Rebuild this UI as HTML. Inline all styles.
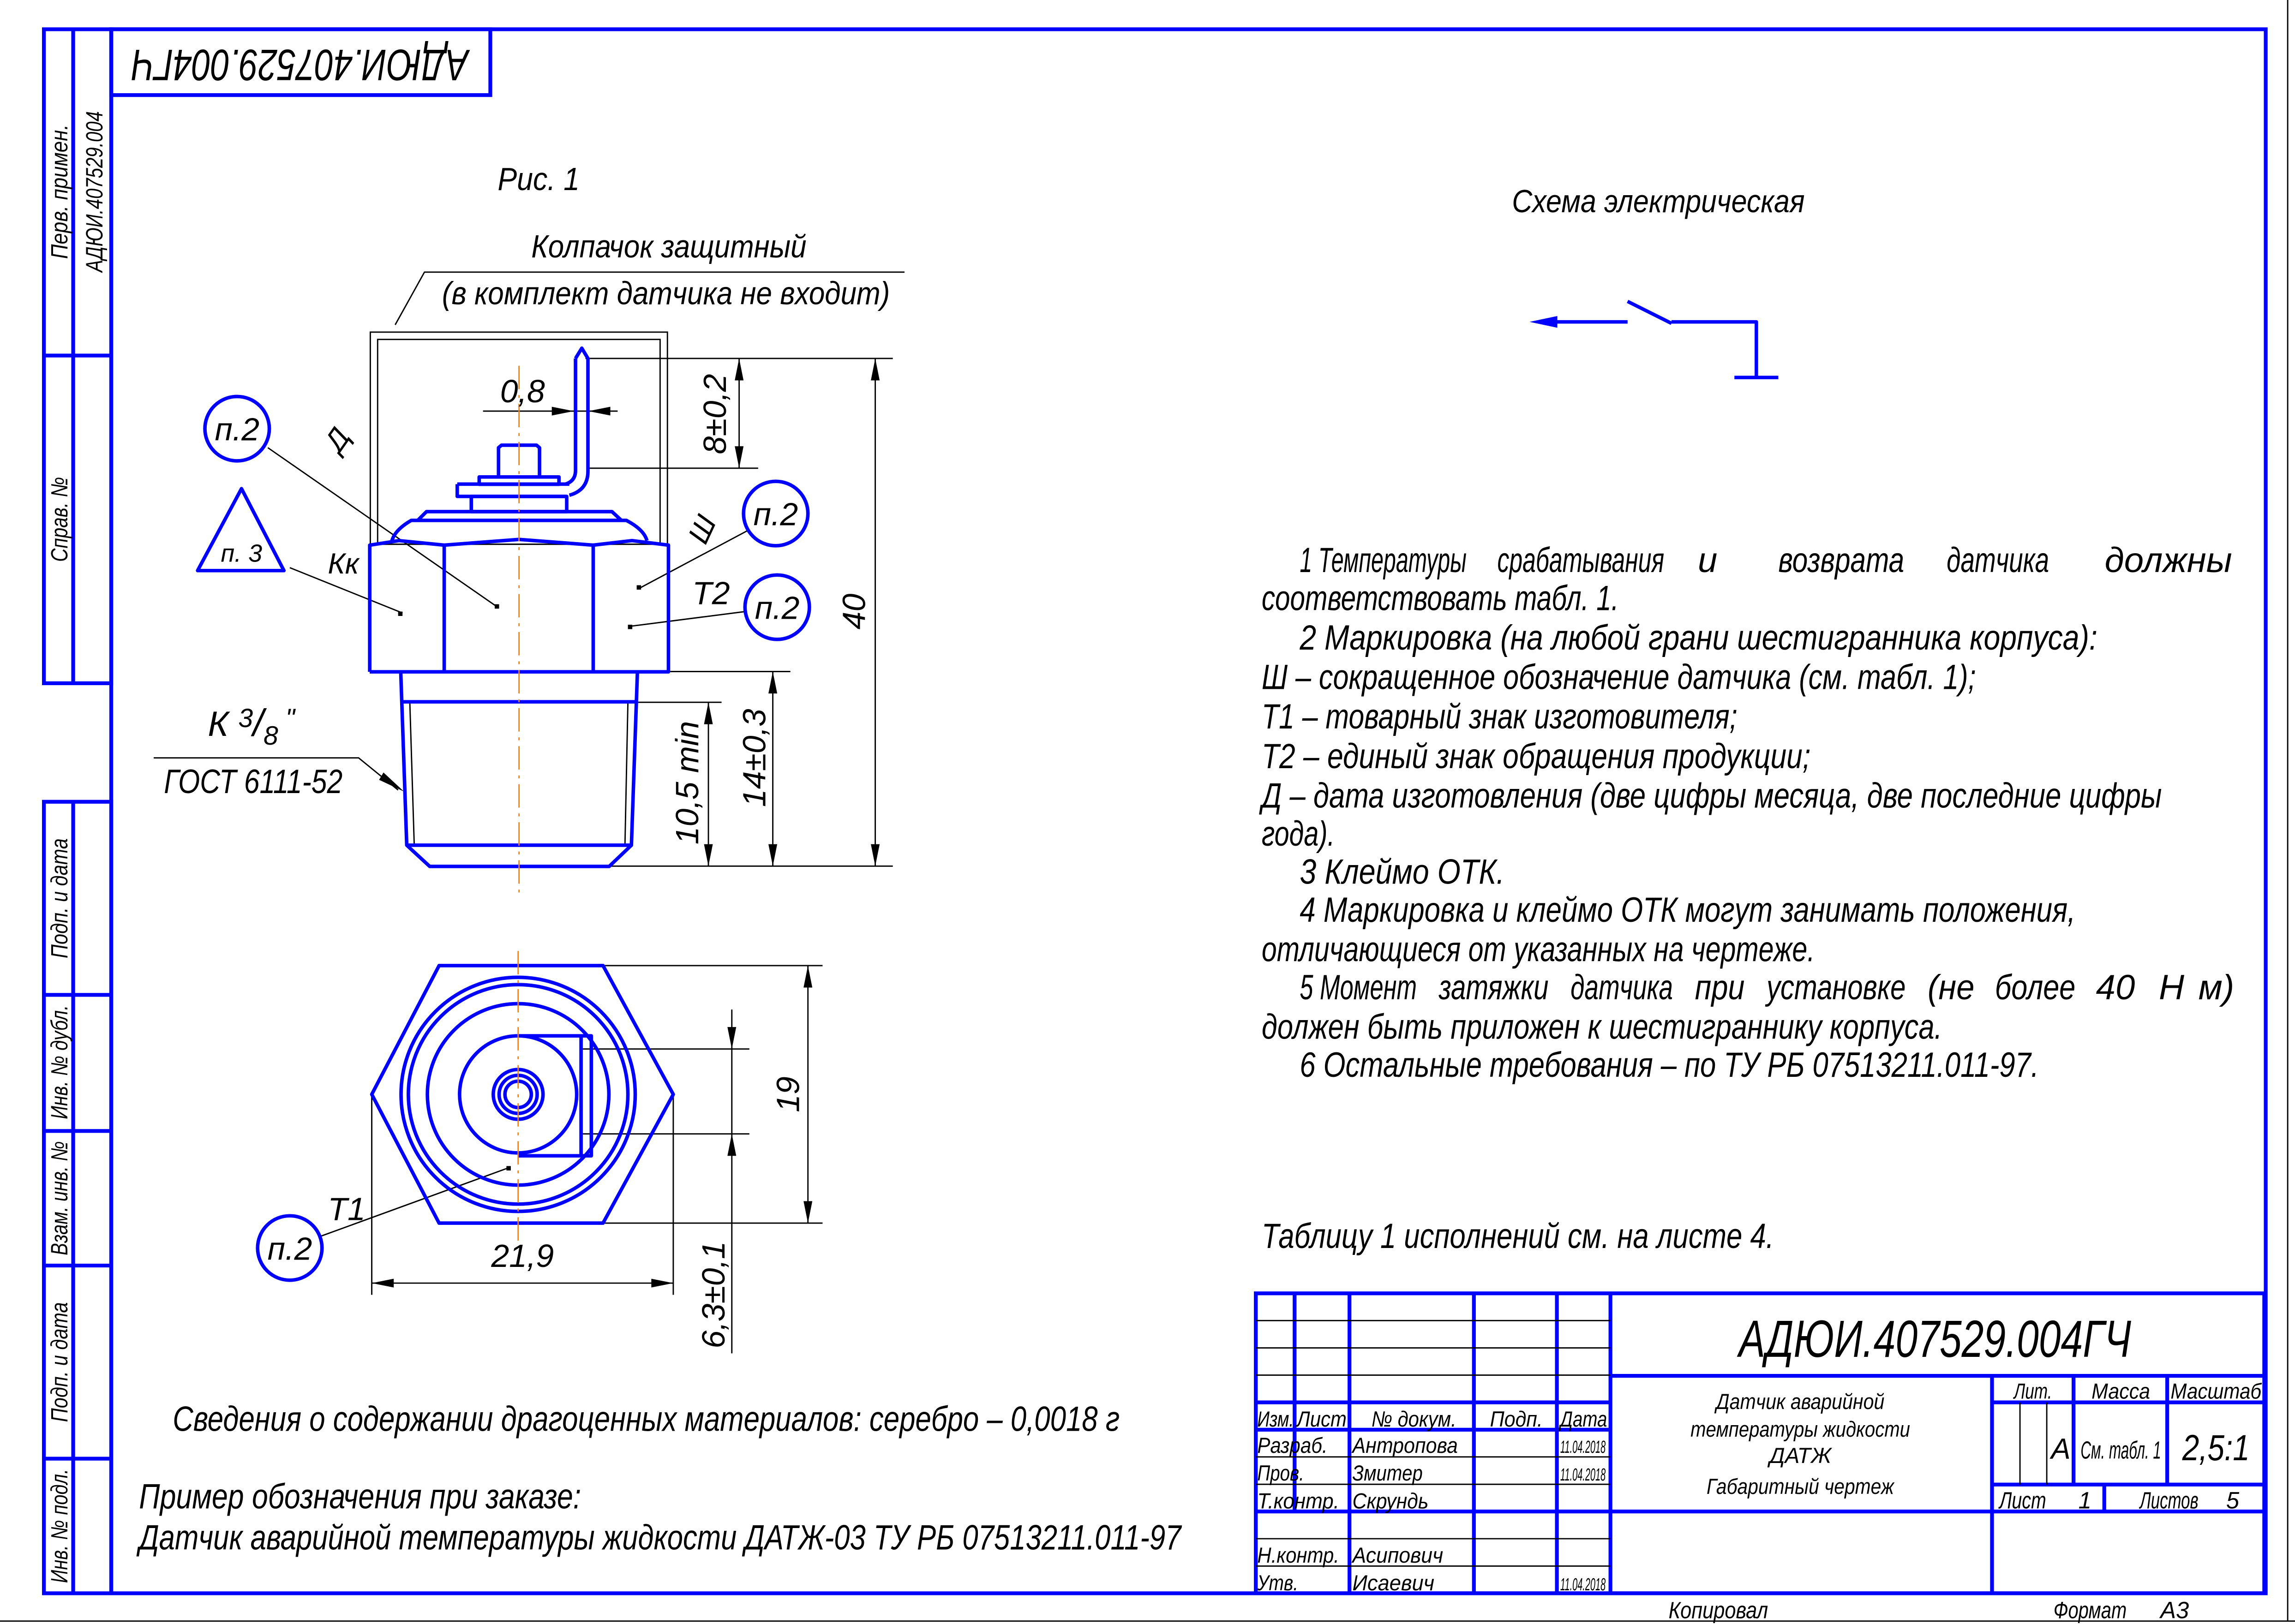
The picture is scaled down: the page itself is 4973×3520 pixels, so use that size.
<!DOCTYPE html>
<html><head><meta charset="utf-8"><style>
html,body{margin:0;padding:0;background:#fff;}
svg{display:block;}
text{font-family:"Liberation Sans","DejaVu Sans",sans-serif;font-style:italic;fill:#000;}
</style></head><body>
<svg width="4973" height="3520" viewBox="0 0 1568 1110" preserveAspectRatio="none" xmlns="http://www.w3.org/2000/svg">
<rect x="0" y="0" width="1568" height="1110" fill="#fff"/>
<g fill="none" stroke="#0000ff" stroke-width="2.6">
<rect x="76" y="20" width="1472" height="1069"/>
<rect x="30" y="20" width="46" height="447"/>
<line x1="50" y1="20" x2="50" y2="467"/>
<line x1="30" y1="243" x2="76" y2="243"/>
<rect x="30" y="548" width="46" height="541"/>
<line x1="50" y1="548" x2="50" y2="1089"/>
<line x1="30" y1="680" x2="76" y2="680"/>
<line x1="30" y1="773" x2="76" y2="773"/>
<line x1="30" y1="865" x2="76" y2="865"/>
<line x1="30" y1="997" x2="76" y2="997"/>
<rect x="76" y="20" width="259" height="45"/>
<rect x="858" y="884" width="689" height="205"/>
<line x1="884.5" y1="884" x2="884.5" y2="1033"/>
<line x1="922" y1="884" x2="922" y2="1089"/>
<line x1="1007" y1="884" x2="1007" y2="1089"/>
<line x1="1063.7" y1="884" x2="1063.7" y2="1089"/>
<line x1="1100.3" y1="884" x2="1100.3" y2="1089"/>
<line x1="858" y1="958.5" x2="1100" y2="958.5"/>
<line x1="858" y1="977.2" x2="1100" y2="977.2"/>
<line x1="858" y1="1033.1" x2="1100" y2="1033.1"/>
<line x1="1100" y1="940.4" x2="1547" y2="940.4"/>
<line x1="1361" y1="958.5" x2="1547" y2="958.5"/>
<line x1="1361" y1="1014.7" x2="1547" y2="1014.7"/>
<line x1="1100" y1="1033.1" x2="1547" y2="1033.1"/>
<line x1="1361" y1="940.4" x2="1361" y2="1089"/>
<line x1="1416.7" y1="940.4" x2="1416.7" y2="1014.7"/>
<line x1="1480.7" y1="940.4" x2="1480.7" y2="1014.7"/>
<line x1="1437.7" y1="1014.7" x2="1437.7" y2="1033.1"/>
</g>
<g stroke="#000" stroke-width="0.9" fill="none">
<line x1="858" y1="902.6" x2="1100" y2="902.6"/>
<line x1="858" y1="921.3" x2="1100" y2="921.3"/>
<line x1="858" y1="939.9" x2="1100" y2="939.9"/>
<line x1="858" y1="995.8" x2="1100" y2="995.8"/>
<line x1="858" y1="1014.5" x2="1100" y2="1014.5"/>
<line x1="858" y1="1051.7" x2="1100" y2="1051.7"/>
<line x1="858" y1="1070.4" x2="1100" y2="1070.4"/>
<line x1="1380.1" y1="958.5" x2="1380.1" y2="1014.7"/>
<line x1="1398.4" y1="958.5" x2="1398.4" y2="1014.7"/>
<line x1="0" y1="1108" x2="1568" y2="1108"/>
<line x1="1563" y1="0" x2="1563" y2="1108"/>
</g>
<g font-size="15">
<text x="859" y="975" textLength="25" lengthAdjust="spacingAndGlyphs">Изм.</text>
<text x="886" y="975" textLength="34" lengthAdjust="spacingAndGlyphs">Лист</text>
<text x="937" y="975" textLength="58" lengthAdjust="spacingAndGlyphs">№ докум.</text>
<text x="1018" y="975" textLength="36" lengthAdjust="spacingAndGlyphs">Подп.</text>
<text x="1066" y="975" textLength="32" lengthAdjust="spacingAndGlyphs">Дата</text>
<text x="859" y="993" textLength="48" lengthAdjust="spacingAndGlyphs">Разраб.</text>
<text x="924" y="993" textLength="72" lengthAdjust="spacingAndGlyphs">Антропова</text>
<text x="859" y="1012" textLength="32" lengthAdjust="spacingAndGlyphs">Пров.</text>
<text x="924" y="1012" textLength="48" lengthAdjust="spacingAndGlyphs">Змитер</text>
<text x="859" y="1031" textLength="56" lengthAdjust="spacingAndGlyphs">Т.контр.</text>
<text x="924" y="1031" textLength="52" lengthAdjust="spacingAndGlyphs">Скрундь</text>
<text x="859" y="1068" textLength="56" lengthAdjust="spacingAndGlyphs">Н.контр.</text>
<text x="924" y="1068" textLength="62" lengthAdjust="spacingAndGlyphs">Асипович</text>
<text x="859" y="1087" textLength="28" lengthAdjust="spacingAndGlyphs">Утв.</text>
<text x="924" y="1087" textLength="56" lengthAdjust="spacingAndGlyphs">Исаевич</text>
</g>
<g font-size="12">
<text x="1066" y="993" textLength="31" lengthAdjust="spacingAndGlyphs">11.04.2018</text>
<text x="1066" y="1012" textLength="31" lengthAdjust="spacingAndGlyphs">11.04.2018</text>
<text x="1066" y="1087" textLength="31" lengthAdjust="spacingAndGlyphs">11.04.2018</text>
</g>
<text x="1188" y="927" font-size="34" textLength="268" lengthAdjust="spacingAndGlyphs" transform="translate(0,-46) scale(1,1.05)">АДЮИ.407529.004ГЧ</text>
<g font-size="15" text-anchor="middle">
<text x="1230" y="963" textLength="115" lengthAdjust="spacingAndGlyphs">Датчик аварийной</text>
<text x="1230" y="982" textLength="150" lengthAdjust="spacingAndGlyphs">температуры жидкости</text>
<text x="1230" y="1000">ДАТЖ</text>
<text x="1230" y="1021" textLength="128" lengthAdjust="spacingAndGlyphs">Габаритный чертеж</text>
<text x="1389" y="956" textLength="26" lengthAdjust="spacingAndGlyphs">Лит.</text>
<text x="1449" y="956" textLength="40" lengthAdjust="spacingAndGlyphs">Масса</text>
<text x="1514" y="956" textLength="62" lengthAdjust="spacingAndGlyphs">Масштаб</text>
<text x="1408" y="997" font-size="20">А</text>
<text x="1449" y="997" font-size="17" textLength="55" lengthAdjust="spacingAndGlyphs">См. табл. 1</text>
<text x="1514" y="998" font-size="25" textLength="46" lengthAdjust="spacingAndGlyphs">2,5:1</text>
</g>
<g font-size="16">
<text x="1366" y="1031" textLength="32" lengthAdjust="spacingAndGlyphs">Лист</text><text x="1420" y="1031">1</text>
<text x="1462" y="1031" textLength="40" lengthAdjust="spacingAndGlyphs">Листов</text><text x="1521" y="1031">5</text>
<text x="1140" y="1106" textLength="68" lengthAdjust="spacingAndGlyphs">Копировал</text>
<text x="1403" y="1106" textLength="50" lengthAdjust="spacingAndGlyphs">Формат</text><text x="1476" y="1106">А3</text>
</g>
<g font-size="16" text-anchor="middle">
<text transform="translate(46,131) rotate(-90)" textLength="92" lengthAdjust="spacingAndGlyphs">Перв. примен.</text>
<text transform="translate(70,131) rotate(-90)" textLength="110" lengthAdjust="spacingAndGlyphs">АДЮИ.407529.004</text>
<text transform="translate(46,355) rotate(-90)" textLength="58" lengthAdjust="spacingAndGlyphs">Справ. №</text>
<text transform="translate(46,614) rotate(-90)" textLength="82" lengthAdjust="spacingAndGlyphs">Подп. и дата</text>
<text transform="translate(46,726) rotate(-90)" textLength="78" lengthAdjust="spacingAndGlyphs">Инв. № дубл.</text>
<text transform="translate(46,819) rotate(-90)" textLength="78" lengthAdjust="spacingAndGlyphs">Взам. инв. №</text>
<text transform="translate(46,931) rotate(-90)" textLength="82" lengthAdjust="spacingAndGlyphs">Подп. и дата</text>
<text transform="translate(46,1043) rotate(-90)" textLength="78" lengthAdjust="spacingAndGlyphs">Инв. № подл.</text>
</g>
<text transform="translate(205,42) rotate(180)" font-size="30" text-anchor="middle" dominant-baseline="middle" textLength="230" lengthAdjust="spacingAndGlyphs">АДЮИ.407529.004ГЧ</text>

<g font-size="22">
<text x="340" y="130" textLength="56" lengthAdjust="spacingAndGlyphs">Рис. 1</text>
<text x="457" y="176" text-anchor="middle" textLength="188" lengthAdjust="spacingAndGlyphs">Колпачок защитный</text>
<text x="455" y="208" text-anchor="middle" textLength="306" lengthAdjust="spacingAndGlyphs">(в комплект датчика не входит)</text>
</g>
<g stroke="#000" stroke-width="0.9" fill="none">
<polyline points="270,222 290,186 618,186"/>
<rect x="253" y="227" width="203" height="145"/>
<rect x="258" y="232" width="193" height="140"/>
<line x1="400" y1="245" x2="610" y2="245"/>
<line x1="416" y1="592" x2="610" y2="592"/>
<line x1="598" y1="245" x2="598" y2="592"/>
<line x1="402" y1="320" x2="518" y2="320"/>
<line x1="505" y1="245" x2="505" y2="320"/>
<line x1="330" y1="281" x2="422" y2="281"/>
<line x1="437" y1="459" x2="540" y2="459"/>
<line x1="528" y1="459" x2="528" y2="592"/>
<line x1="435" y1="480" x2="493" y2="480"/>
<line x1="484" y1="480" x2="484" y2="592"/>
<polyline points="105,518 245,518 272,540"/>
<line x1="183" y1="306" x2="340" y2="415"/>
<line x1="198" y1="388" x2="275" y2="419"/>
<line x1="512" y1="362" x2="437" y2="402"/>
<line x1="509" y1="418" x2="431" y2="428"/>
<line x1="219" y1="845" x2="348" y2="798"/>
<line x1="412" y1="660" x2="562" y2="660"/>
<line x1="412" y1="836" x2="562" y2="836"/>
<line x1="552" y1="660" x2="552" y2="836"/>
<line x1="397" y1="717" x2="512" y2="717"/>
<line x1="397" y1="775" x2="512" y2="775"/>
<line x1="500" y1="690" x2="500" y2="925"/>
<line x1="254" y1="748" x2="254" y2="885"/>
<line x1="460" y1="748" x2="460" y2="885"/>
<line x1="254" y1="877" x2="460" y2="877"/>
<line x1="280" y1="480" x2="283" y2="577"/>
<line x1="429" y1="480" x2="427" y2="577"/>
</g>
<g fill="#000" stroke="none">
<polygon points="598,245 595,260 601,260"/><polygon points="598,592 595,577 601,577"/>
<polygon points="505,245 502,260 508,260"/><polygon points="505,320 502,305 508,305"/>
<polygon points="392,281 377,278 377,284"/><polygon points="402,281 417,278 417,284"/>
<polygon points="528,459 525,474 531,474"/><polygon points="528,592 525,577 531,577"/>
<polygon points="484,480 481,495 487,495"/><polygon points="484,592 481,577 487,577"/>
<polygon points="276,541 262,528 259,533"/>
<polygon points="552,660 549,675 555,675"/><polygon points="552,836 549,821 555,821"/>
<polygon points="500,717 497,702 503,702"/><polygon points="500,775 497,790 503,790"/>
<polygon points="254,877 269,874 269,880"/><polygon points="460,877 445,874 445,880"/>
<rect x="338" y="413" width="3" height="3"/><rect x="272" y="418" width="3" height="3"/>
<rect x="435" y="400" width="3" height="3"/><rect x="429" y="427" width="3" height="3"/>
<rect x="346" y="797" width="3" height="3"/>
</g>
<g fill="none" stroke="#0000ff" stroke-width="2.4" stroke-linejoin="round">
<polyline points="252.6,459.2 252.6,372.6 272.6,369.5 303.5,372.6 354.6,368.7 405.3,372.6 431.8,369.5 456.7,372.6 456.7,459.2 252.6,459.2"/>
<line x1="303.5" y1="372.6" x2="303.5" y2="459.2"/>
<line x1="405.3" y1="372.6" x2="405.3" y2="459.2"/>
<path d="M267.8,369.5 Q270,362 281,355.7 L428,355.7 Q440,362 442,369.5"/>
<polyline points="285.4,355.7 291.4,349.7 418.1,349.7 424.6,355.7"/>
<rect x="322" y="339.3" width="65.2" height="10.4"/>
<path d="M312.4,330.9 L389,330.9 M312.4,330.9 L312.4,339.3 L387,339.3"/>
<rect x="327.4" y="326" width="54.5" height="5"/>
<path d="M340.6,326 L340.6,306 L342.6,304.3 L366.6,304.3 L368.6,306 L368.6,326"/>
<path d="M393.2,245 L397.5,238 L401.7,245 L401.7,322 Q401.7,335 389,338.5 M393.2,245 L393.2,322 Q393,329 386,331"/>
<polyline points="273.8,459.2 277.9,577.7 293.6,592.2 416.2,592.2 431.4,577.7 435.5,459.2"/>
<line x1="275" y1="479.7" x2="435" y2="479.7"/>
<line x1="277.9" y1="577.7" x2="431.4" y2="577.7"/>
<circle cx="162" cy="293" r="22"/>
<circle cx="530" cy="351" r="22"/>
<circle cx="531" cy="415" r="22"/>
<circle cx="198" cy="853" r="22"/>
<polygon points="165,334 135,390 194,390"/>
<polygon points="300,660 412,660 460,748 412,836 300,836 254,748"/>
<circle cx="354" cy="748" r="80"/>
<circle cx="354" cy="748" r="75"/>
<circle cx="354" cy="748" r="62"/>
<circle cx="354" cy="748" r="40"/>
<circle cx="354" cy="748" r="17"/>
<circle cx="354" cy="748" r="13"/>
<circle cx="354" cy="748" r="9"/>
<polyline points="354,708 404,708 404,790 354,790"/>
<line x1="397" y1="708" x2="397" y2="790"/>
<line x1="1060" y1="220" x2="1112" y2="220"/>
<line x1="1112" y1="206" x2="1142" y2="221"/>
<polyline points="1142,220 1200,220 1200,258"/>
<line x1="1185" y1="258" x2="1215" y2="258"/>
</g>
<polygon points="1045,220 1064,216 1064,224" fill="#0000ff"/>
<line x1="354.6" y1="250" x2="354.6" y2="612" stroke="#ff8000" stroke-width="0.9" stroke-dasharray="16,4,2,4"/>
<line x1="354" y1="650" x2="354" y2="848" stroke="#ff8000" stroke-width="0.9" stroke-dasharray="16,4,2,4"/>
<g font-size="22">
<text x="162" y="301" text-anchor="middle">п.2</text>
<text x="530" y="359" text-anchor="middle">п.2</text>
<text x="531" y="423" text-anchor="middle">п.2</text>
<text x="198" y="861" text-anchor="middle">п.2</text>
<text x="165" y="384" text-anchor="middle" font-size="17">п. 3</text>
<text transform="translate(232,310) rotate(-55)" font-size="20">Д</text>
<text x="224" y="392" font-size="20">Кк</text>
<text transform="translate(482,373) rotate(-65)" font-size="20">Ш</text>
<text x="473" y="413" font-size="22">Т2</text>
<text x="224" y="834" font-size="22">Т1</text>
<text x="357" y="275" text-anchor="middle">0,8</text>
<text transform="translate(496,283) rotate(-90)" text-anchor="middle">8±0,2</text>
<text transform="translate(591,418) rotate(-90)" text-anchor="middle">40</text>
<text transform="translate(523,518) rotate(-90)" text-anchor="middle">14±0,3</text>
<text transform="translate(477,535) rotate(-90)" text-anchor="middle">10,5 min</text>
<text transform="translate(546,748) rotate(-90)" text-anchor="middle">19</text>
<text transform="translate(495,885) rotate(-90)" text-anchor="middle">6,3±0,1</text>
<text x="357" y="866" text-anchor="middle">21,9</text>
<text x="142" y="503" font-size="24">К <tspan font-size="18" dy="-6">3</tspan><tspan dy="6" font-size="26">/</tspan><tspan font-size="18" dy="6">8</tspan><tspan dy="-12" font-size="18"> "</tspan></text>
<text x="112" y="542" font-size="23" textLength="122" lengthAdjust="spacingAndGlyphs">ГОСТ 6111-52</text>
<text x="1133" y="145" text-anchor="middle" textLength="200" lengthAdjust="spacingAndGlyphs">Схема электрическая</text>
</g>
<g font-size="24">
<text x="888" y="391" textLength="114" lengthAdjust="spacingAndGlyphs">1 Температуры</text>
<text x="1023" y="391" textLength="114" lengthAdjust="spacingAndGlyphs">срабатывания</text>
<text x="1160" y="391">и</text>
<text x="1215" y="391" textLength="86" lengthAdjust="spacingAndGlyphs">возврата</text>
<text x="1330" y="391" textLength="70" lengthAdjust="spacingAndGlyphs">датчика</text>
<text x="1438" y="391" textLength="87" lengthAdjust="spacingAndGlyphs">должны</text>
<text x="862" y="417" textLength="244" lengthAdjust="spacingAndGlyphs">соответствовать табл. 1.</text>
<text x="888" y="444" textLength="545" lengthAdjust="spacingAndGlyphs">2 Маркировка (на  любой  грани шестигранника корпуса):</text>
<text x="862" y="471" textLength="488" lengthAdjust="spacingAndGlyphs">Ш – сокращенное обозначение датчика (см. табл. 1);</text>
<text x="862" y="498" textLength="325" lengthAdjust="spacingAndGlyphs">Т1 – товарный знак изготовителя;</text>
<text x="862" y="525" textLength="375" lengthAdjust="spacingAndGlyphs">Т2 – единый знак обращения продукции;</text>
<text x="862" y="552" textLength="615" lengthAdjust="spacingAndGlyphs">Д – дата изготовления (две цифры месяца, две последние цифры</text>
<text x="862" y="578" textLength="50" lengthAdjust="spacingAndGlyphs">года).</text>
<text x="888" y="604" textLength="140" lengthAdjust="spacingAndGlyphs">3  Клеймо ОТК.</text>
<text x="888" y="630" textLength="530" lengthAdjust="spacingAndGlyphs">4 Маркировка и клеймо ОТК могут занимать положения,</text>
<text x="862" y="657" textLength="378" lengthAdjust="spacingAndGlyphs">отличающиеся от указанных на чертеже.</text>
<text x="888" y="683" textLength="80" lengthAdjust="spacingAndGlyphs">5 Момент</text>
<text x="983" y="683" textLength="75" lengthAdjust="spacingAndGlyphs">затяжки</text>
<text x="1073" y="683" textLength="70" lengthAdjust="spacingAndGlyphs">датчика</text>
<text x="1158" y="683" textLength="34" lengthAdjust="spacingAndGlyphs">при</text>
<text x="1207" y="683" textLength="95" lengthAdjust="spacingAndGlyphs">установке</text>
<text x="1317" y="683" textLength="32" lengthAdjust="spacingAndGlyphs">(не</text>
<text x="1363" y="683" textLength="55" lengthAdjust="spacingAndGlyphs">более</text>
<text x="1432" y="683">40</text>
<text x="1475" y="683">Н</text>
<text x="1502" y="683">м)</text>
<text x="862" y="710" textLength="465" lengthAdjust="spacingAndGlyphs">должен быть приложен к шестиграннику корпуса.</text>
<text x="888" y="736" textLength="505" lengthAdjust="spacingAndGlyphs">6 Остальные требования – по ТУ РБ 07513211.011-97.</text>
<text x="862" y="853" textLength="350" lengthAdjust="spacingAndGlyphs">Таблицу 1 исполнений см. на листе 4.</text>
<text x="118" y="978" textLength="647" lengthAdjust="spacingAndGlyphs">Сведения о содержании драгоценных материалов: серебро – 0,0018 г</text>
<text x="95" y="1031" textLength="302" lengthAdjust="spacingAndGlyphs">Пример обозначения при заказе:</text>
<text x="95" y="1059" textLength="712" lengthAdjust="spacingAndGlyphs">Датчик аварийной температуры жидкости ДАТЖ-03 ТУ РБ 07513211.011-97</text>
</g>
</svg>
</body></html>
